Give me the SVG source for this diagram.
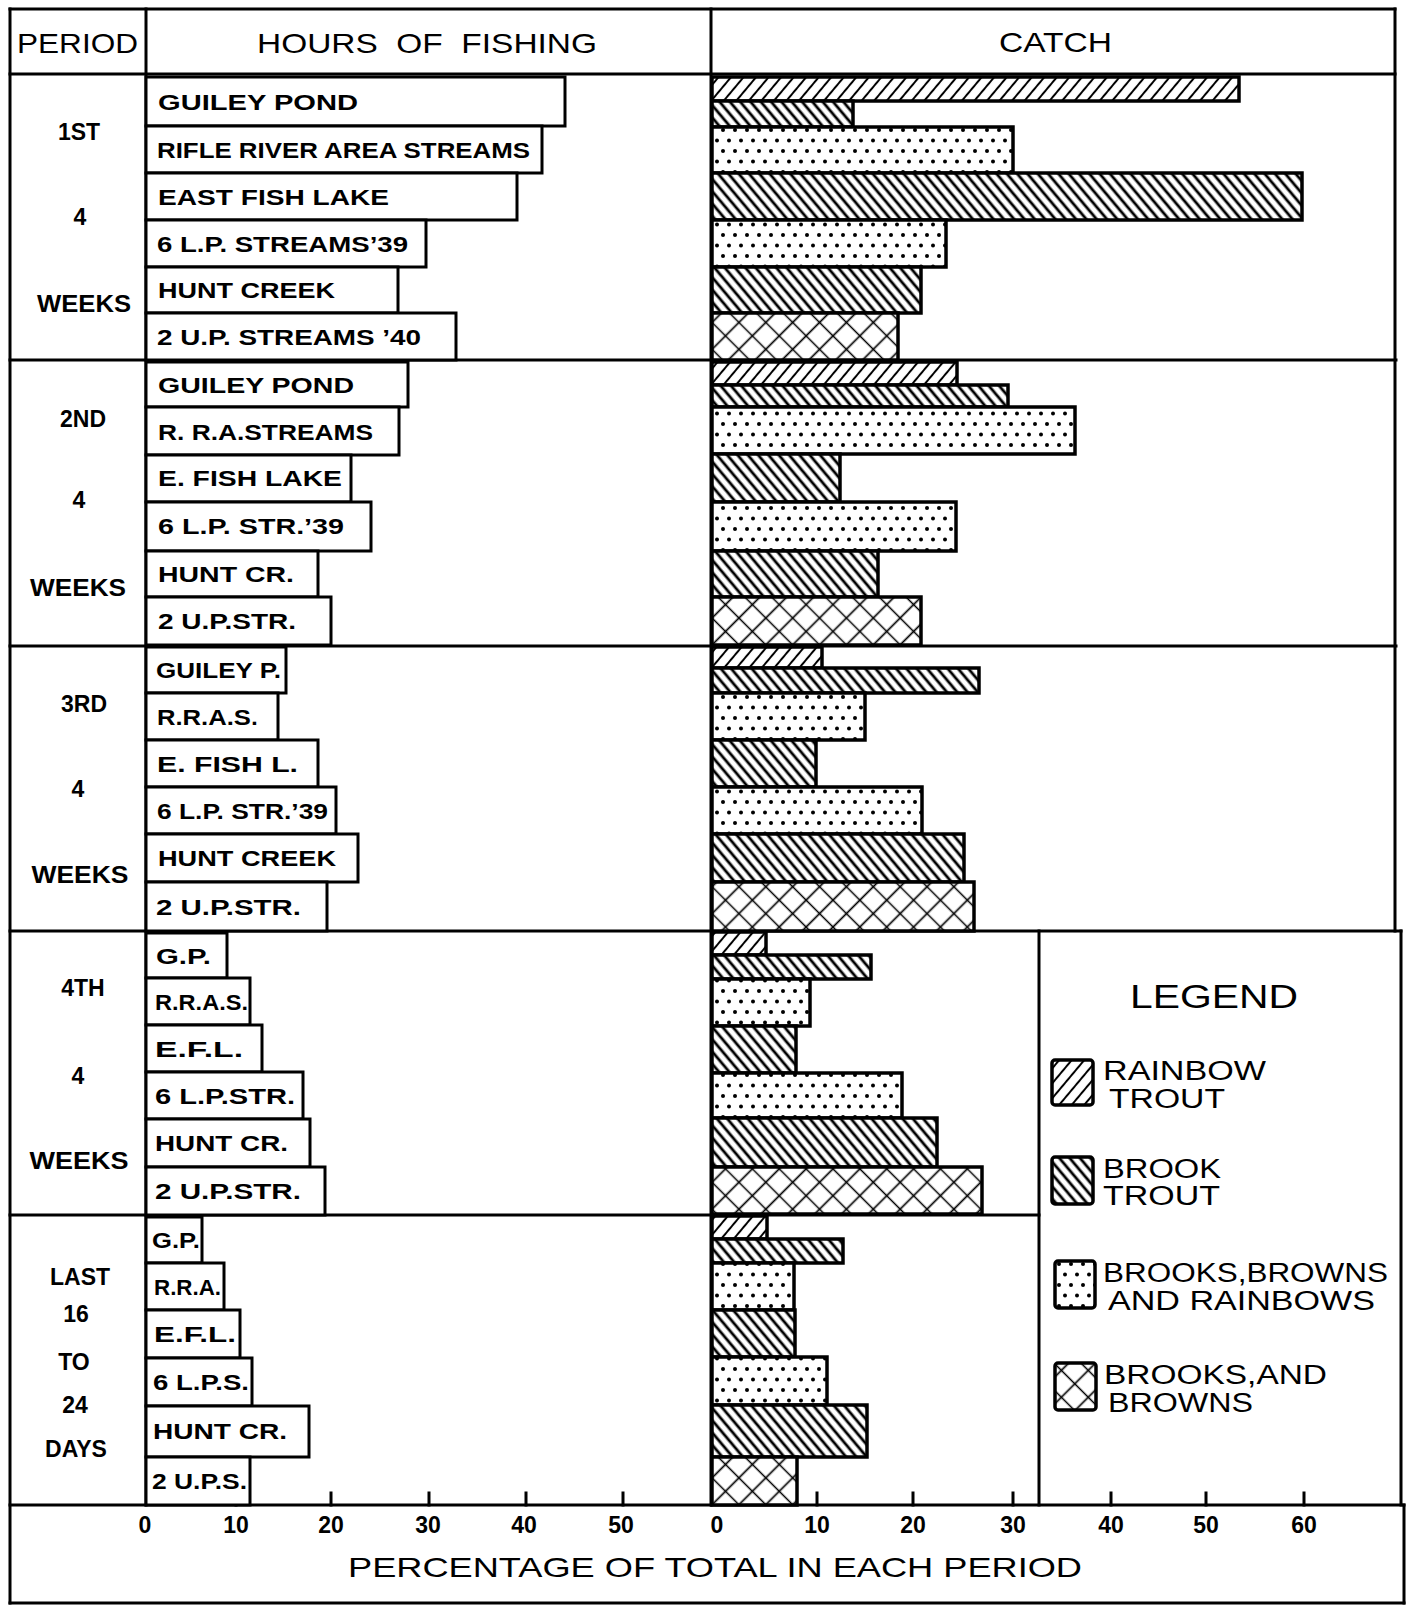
<svg xmlns="http://www.w3.org/2000/svg" width="1410" height="1606" viewBox="0 0 1410 1606">
<style>
.ln{stroke:#000;stroke-width:3;fill:none;stroke-linecap:square}
.bar{stroke:#000;stroke-width:3;fill:#fff}
.cb{stroke:#000;stroke-width:3.5}
.rb{fill:url(#pRain)}
.bk{fill:url(#pBrook)}
.dt{fill:url(#pDots)}
.cx{fill:url(#pCross)}
.lab{font-family:"Liberation Sans",Arial,sans-serif;font-weight:bold;font-size:22px;fill:#000}
.per{font-family:"Liberation Sans",Arial,sans-serif;font-weight:bold;font-size:23px;fill:#000;text-anchor:middle}
.hdr{font-family:"Liberation Sans",Arial,sans-serif;font-size:28px;fill:#000}
.leg{font-family:"Liberation Sans",Arial,sans-serif;font-size:27px;fill:#000}
.num{font-family:"Liberation Sans",Arial,sans-serif;font-weight:bold;font-size:23px;fill:#000;text-anchor:middle}
</style>
<defs>
<pattern id="pRain" patternUnits="userSpaceOnUse" width="9.6" height="10" patternTransform="rotate(40)">
<rect width="9.6" height="10" fill="#fff"/><path d="M4.8 -1V11" stroke="#000" stroke-width="2"/>
</pattern>
<pattern id="pBrook" patternUnits="userSpaceOnUse" width="7.9" height="10" patternTransform="rotate(-40)">
<rect width="7.9" height="10" fill="#fff"/><path d="M3.95 -1V11" stroke="#000" stroke-width="2.8"/>
</pattern>
<pattern id="pDots" patternUnits="userSpaceOnUse" width="12" height="21">
<rect width="12" height="21" fill="#fff"/><circle cx="3" cy="4" r="2" fill="#000"/><circle cx="9" cy="14.5" r="2" fill="#000"/>
</pattern>
<pattern id="pCross" patternUnits="userSpaceOnUse" width="19" height="19" patternTransform="rotate(45)">
<rect width="19" height="19" fill="#fff"/><path d="M9.5 0V19M0 9.5H19" stroke="#000" stroke-width="1.7"/>
</pattern>
</defs>
<rect width="1410" height="1606" fill="#fff"/>

<g id="connectors">
<path class="ln" d="M10 9H1395M10 74H1395M10 360H1396M10 646H1396M10 931H1401M10 1215H1039M10 1505H1404M10 1603H1404"/>
<path class="ln" d="M10 9V1603M146 9V1505M711 9V1505M1395 9V931M1039 931V1505M1401 931V1505M1404 1505V1603"/>
<path class="ln" d="M236 1493V1505M331 1493V1505M429 1493V1505M526 1493V1505M623 1493V1505M817 1493V1505M913 1493V1505M1013 1493V1505M1111 1493V1505M1206 1493V1505M1304 1493V1505"/>
</g>

<g id="header">
<text class="hdr" x="17" y="53" textLength="121" lengthAdjust="spacingAndGlyphs">PERIOD</text>
<text class="hdr" x="257" y="53" textLength="340" lengthAdjust="spacingAndGlyphs" xml:space="preserve">HOURS  OF  FISHING</text>
<text class="hdr" x="999" y="52" textLength="113" lengthAdjust="spacingAndGlyphs">CATCH</text>
</g>

<g id="period-1">
<text class="per" x="79" y="140">1ST</text>
<text class="per" x="80" y="225">4</text>
<text class="per" x="84" y="312" textLength="94" lengthAdjust="spacingAndGlyphs">WEEKS</text>
<rect class="bar" x="146" y="77" width="419" height="49"/>
<rect class="bar" x="146" y="126" width="396" height="47"/>
<rect class="bar" x="146" y="173" width="371" height="47"/>
<rect class="bar" x="146" y="220" width="280" height="47"/>
<rect class="bar" x="146" y="267" width="252" height="46"/>
<rect class="bar" x="146" y="313" width="310" height="47"/>
<text class="lab" x="158" y="110" textLength="200" lengthAdjust="spacingAndGlyphs">GUILEY POND</text>
<text class="lab" x="157" y="158" textLength="373" lengthAdjust="spacingAndGlyphs">RIFLE RIVER AREA STREAMS</text>
<text class="lab" x="158" y="205" textLength="231" lengthAdjust="spacingAndGlyphs">EAST FISH LAKE</text>
<text class="lab" x="157" y="252" textLength="251" lengthAdjust="spacingAndGlyphs">6 L.P. STREAMS’39</text>
<text class="lab" x="158" y="298" textLength="177" lengthAdjust="spacingAndGlyphs">HUNT CREEK</text>
<text class="lab" x="157" y="345" textLength="264" lengthAdjust="spacingAndGlyphs">2 U.P. STREAMS ’40</text>
<rect class="cb rb" x="712" y="77" width="527" height="24"/>
<rect class="cb bk" x="712" y="101" width="141" height="26"/>
<rect class="cb dt" x="712" y="127" width="301" height="46"/>
<rect class="cb bk" x="712" y="173" width="590" height="47"/>
<rect class="cb dt" x="712" y="220" width="234" height="47"/>
<rect class="cb bk" x="712" y="267" width="209" height="46"/>
<rect class="cb cx" x="712" y="313" width="186" height="47"/>
</g>

<g id="period-2">
<text class="per" x="83" y="427">2ND</text>
<text class="per" x="79" y="508">4</text>
<text class="per" x="78" y="596" textLength="96" lengthAdjust="spacingAndGlyphs">WEEKS</text>
<rect class="bar" x="146" y="362" width="262" height="45"/>
<rect class="bar" x="146" y="407" width="253" height="48"/>
<rect class="bar" x="146" y="455" width="205" height="47"/>
<rect class="bar" x="146" y="502" width="225" height="49"/>
<rect class="bar" x="146" y="551" width="172" height="46"/>
<rect class="bar" x="146" y="597" width="185" height="48"/>
<text class="lab" x="158" y="393" textLength="196" lengthAdjust="spacingAndGlyphs">GUILEY POND</text>
<text class="lab" x="158" y="440" textLength="215" lengthAdjust="spacingAndGlyphs">R. R.A.STREAMS</text>
<text class="lab" x="158" y="486" textLength="184" lengthAdjust="spacingAndGlyphs">E. FISH LAKE</text>
<text class="lab" x="158" y="534" textLength="186" lengthAdjust="spacingAndGlyphs">6 L.P. STR.’39</text>
<text class="lab" x="158" y="582" textLength="136" lengthAdjust="spacingAndGlyphs">HUNT CR.</text>
<text class="lab" x="158" y="629" textLength="138" lengthAdjust="spacingAndGlyphs">2 U.P.STR.</text>
<rect class="cb rb" x="712" y="362" width="245" height="23"/>
<rect class="cb bk" x="712" y="385" width="296" height="22"/>
<rect class="cb dt" x="712" y="407" width="363" height="47"/>
<rect class="cb bk" x="712" y="454" width="128" height="48"/>
<rect class="cb dt" x="712" y="502" width="244" height="49"/>
<rect class="cb bk" x="712" y="551" width="166" height="46"/>
<rect class="cb cx" x="712" y="597" width="209" height="48"/>
</g>

<g id="period-3">
<text class="per" x="84" y="712">3RD</text>
<text class="per" x="78" y="797">4</text>
<text class="per" x="80" y="883" textLength="97" lengthAdjust="spacingAndGlyphs">WEEKS</text>
<rect class="bar" x="146" y="647" width="140" height="46"/>
<rect class="bar" x="146" y="693" width="132" height="47"/>
<rect class="bar" x="146" y="740" width="172" height="47"/>
<rect class="bar" x="146" y="787" width="190" height="47"/>
<rect class="bar" x="146" y="834" width="212" height="48"/>
<rect class="bar" x="146" y="882" width="181" height="49"/>
<text class="lab" x="156" y="678" textLength="125" lengthAdjust="spacingAndGlyphs">GUILEY P.</text>
<text class="lab" x="157" y="725" textLength="101" lengthAdjust="spacingAndGlyphs">R.R.A.S.</text>
<text class="lab" x="157" y="772" textLength="141" lengthAdjust="spacingAndGlyphs">E. FISH L.</text>
<text class="lab" x="157" y="819" textLength="171" lengthAdjust="spacingAndGlyphs">6 L.P. STR.’39</text>
<text class="lab" x="158" y="866" textLength="178" lengthAdjust="spacingAndGlyphs">HUNT CREEK</text>
<text class="lab" x="156" y="915" textLength="145" lengthAdjust="spacingAndGlyphs">2 U.P.STR.</text>
<rect class="cb rb" x="712" y="647" width="110" height="21"/>
<rect class="cb bk" x="712" y="668" width="267" height="25"/>
<rect class="cb dt" x="712" y="693" width="153" height="47"/>
<rect class="cb bk" x="712" y="740" width="104" height="47"/>
<rect class="cb dt" x="712" y="787" width="210" height="47"/>
<rect class="cb bk" x="712" y="834" width="252" height="48"/>
<rect class="cb cx" x="712" y="882" width="262" height="49"/>
</g>

<g id="period-4">
<text class="per" x="83" y="996">4TH</text>
<text class="per" x="78" y="1084">4</text>
<text class="per" x="79" y="1169" textLength="99" lengthAdjust="spacingAndGlyphs">WEEKS</text>
<rect class="bar" x="146" y="933" width="81" height="45"/>
<rect class="bar" x="146" y="978" width="104" height="47"/>
<rect class="bar" x="146" y="1025" width="116" height="47"/>
<rect class="bar" x="146" y="1072" width="157" height="47"/>
<rect class="bar" x="146" y="1119" width="164" height="48"/>
<rect class="bar" x="146" y="1167" width="179" height="48"/>
<text class="lab" x="156" y="964" textLength="55" lengthAdjust="spacingAndGlyphs">G.P.</text>
<text class="lab" x="155" y="1010" textLength="93" lengthAdjust="spacingAndGlyphs">R.R.A.S.</text>
<text class="lab" x="155" y="1057" textLength="88" lengthAdjust="spacingAndGlyphs">E.F.L.</text>
<text class="lab" x="155" y="1104" textLength="140" lengthAdjust="spacingAndGlyphs">6 L.P.STR.</text>
<text class="lab" x="155" y="1151" textLength="133" lengthAdjust="spacingAndGlyphs">HUNT CR.</text>
<text class="lab" x="155" y="1199" textLength="146" lengthAdjust="spacingAndGlyphs">2 U.P.STR.</text>
<rect class="cb rb" x="712" y="932" width="54" height="23"/>
<rect class="cb bk" x="712" y="955" width="159" height="24"/>
<rect class="cb dt" x="712" y="979" width="98" height="47"/>
<rect class="cb bk" x="712" y="1026" width="84" height="47"/>
<rect class="cb dt" x="712" y="1073" width="190" height="45"/>
<rect class="cb bk" x="712" y="1118" width="225" height="49"/>
<rect class="cb cx" x="712" y="1167" width="270" height="47"/>
</g>

<g id="period-5">
<text class="per" x="80" y="1285">LAST</text>
<text class="per" x="76" y="1322">16</text>
<text class="per" x="74" y="1370">TO</text>
<text class="per" x="75" y="1413">24</text>
<text class="per" x="76" y="1457">DAYS</text>
<rect class="bar" x="146" y="1217" width="56" height="46"/>
<rect class="bar" x="146" y="1263" width="78" height="47"/>
<rect class="bar" x="146" y="1310" width="94" height="48"/>
<rect class="bar" x="146" y="1358" width="106" height="48"/>
<rect class="bar" x="146" y="1406" width="163" height="51"/>
<rect class="bar" x="146" y="1457" width="104" height="48"/>
<text class="lab" x="152" y="1248" textLength="48" lengthAdjust="spacingAndGlyphs">G.P.</text>
<text class="lab" x="154" y="1295" textLength="67" lengthAdjust="spacingAndGlyphs">R.R.A.</text>
<text class="lab" x="154" y="1342" textLength="82" lengthAdjust="spacingAndGlyphs">E.F.L.</text>
<text class="lab" x="153" y="1390" textLength="96" lengthAdjust="spacingAndGlyphs">6 L.P.S.</text>
<text class="lab" x="153" y="1439" textLength="134" lengthAdjust="spacingAndGlyphs">HUNT CR.</text>
<text class="lab" x="152" y="1489" textLength="95" lengthAdjust="spacingAndGlyphs">2 U.P.S.</text>
<rect class="cb rb" x="712" y="1216" width="55" height="23"/>
<rect class="cb bk" x="712" y="1239" width="131" height="24"/>
<rect class="cb dt" x="712" y="1263" width="82" height="47"/>
<rect class="cb bk" x="712" y="1310" width="83" height="47"/>
<rect class="cb dt" x="712" y="1357" width="115" height="48"/>
<rect class="cb bk" x="712" y="1405" width="155" height="52"/>
<rect class="cb cx" x="712" y="1457" width="85" height="48"/>
</g>

<g id="legend">
<text class="hdr" x="1130" y="1008" textLength="168" lengthAdjust="spacingAndGlyphs" style="font-size:33px">LEGEND</text>
<rect class="cb rb" x="1052" y="1060" width="41" height="45" rx="3"/>
<text class="leg" x="1103" y="1080" textLength="163" lengthAdjust="spacingAndGlyphs">RAINBOW</text>
<text class="leg" x="1109" y="1108" textLength="116" lengthAdjust="spacingAndGlyphs">TROUT</text>
<rect class="cb bk" x="1052" y="1157" width="41" height="47" rx="3"/>
<text class="leg" x="1103" y="1178" textLength="118" lengthAdjust="spacingAndGlyphs">BROOK</text>
<text class="leg" x="1103" y="1205" textLength="117" lengthAdjust="spacingAndGlyphs">TROUT</text>
<rect class="cb dt" x="1055" y="1261" width="40" height="47" rx="3"/>
<text class="leg" x="1103" y="1282" textLength="285" lengthAdjust="spacingAndGlyphs">BROOKS,BROWNS</text>
<text class="leg" x="1108" y="1310" textLength="267" lengthAdjust="spacingAndGlyphs">AND RAINBOWS</text>
<rect class="cb cx" x="1055" y="1363" width="41" height="47" rx="3"/>
<text class="leg" x="1104" y="1384" textLength="223" lengthAdjust="spacingAndGlyphs">BROOKS,AND</text>
<text class="leg" x="1108" y="1412" textLength="145" lengthAdjust="spacingAndGlyphs">BROWNS</text>
</g>

<g id="axis">
<text class="num" x="145" y="1533">0</text>
<text class="num" x="236" y="1533">10</text>
<text class="num" x="331" y="1533">20</text>
<text class="num" x="428" y="1533">30</text>
<text class="num" x="524" y="1533">40</text>
<text class="num" x="621" y="1533">50</text>
<text class="num" x="717" y="1533">0</text>
<text class="num" x="817" y="1533">10</text>
<text class="num" x="913" y="1533">20</text>
<text class="num" x="1013" y="1533">30</text>
<text class="num" x="1111" y="1533">40</text>
<text class="num" x="1206" y="1533">50</text>
<text class="num" x="1304" y="1533">60</text>
<text class="hdr" x="348" y="1577" textLength="734" lengthAdjust="spacingAndGlyphs">PERCENTAGE OF TOTAL IN EACH PERIOD</text>
</g>
</svg>
